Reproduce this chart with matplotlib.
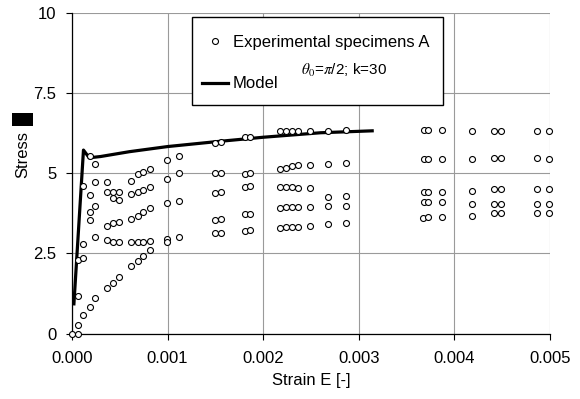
import matplotlib
matplotlib.use("Agg")
import matplotlib.pyplot as plt
from matplotlib.lines import Line2D
from matplotlib.patches import Rectangle

plt.rcParams['font.family'] = ['Liberation Sans', 'DejaVu Sans']
plt.rcParams['mathtext.fontset'] = 'stix'

# Experimental specimens A: strain and stress
exp_strain = [
    0.0, 0.000063, 0.000063, 0.000118, 0.000188, 0.000243, 0.000369, 0.000425, 0.000494,
    0.00062, 0.00069, 0.000745, 0.000815,
    0.000063, 0.000063, 0.000118, 0.000118, 0.000243,
    0.000369, 0.000425, 0.000494, 0.00062, 0.00069, 0.000745, 0.000815,
    0.000996, 0.000996, 0.00112,
    0.000188, 0.000188, 0.000243,
    0.000369, 0.000425, 0.000494,
    0.00062, 0.00069, 0.000745, 0.000815,
    0.000996, 0.00112,
    0.000188, 0.000118, 0.000243, 0.000369,
    0.000369, 0.000425, 0.000494, 0.000425, 0.000494,
    0.00062,
    0.00062, 0.00069, 0.000745, 0.000815,
    0.00069, 0.000745, 0.000815,
    0.000996, 0.000996, 0.00112, 0.00112,
    0.000188, 0.000243,
    0.0015, 0.00156, 0.00181, 0.001867,
    0.00218, 0.002236, 0.0023, 0.00236, 0.002494, 0.002675, 0.00287,
    0.0015, 0.00156, 0.00181, 0.001867,
    0.00218, 0.002236, 0.0023, 0.00236, 0.002494, 0.002675, 0.00287,
    0.0015, 0.00156, 0.00181, 0.001867,
    0.00218, 0.002236, 0.0023, 0.00236, 0.002494, 0.002675, 0.00287,
    0.0015, 0.00156, 0.00181, 0.001867,
    0.00218, 0.002236, 0.0023, 0.00236, 0.002494, 0.002675, 0.00287,
    0.0015, 0.00156, 0.00181, 0.001867,
    0.00218, 0.002236, 0.0023, 0.00236, 0.002494, 0.002675, 0.00287,
    0.003678, 0.003727, 0.003866, 0.00418, 0.00441, 0.004486, 0.004862, 0.004988,
    0.003678, 0.003727, 0.003866, 0.00418, 0.00441, 0.004486, 0.004862, 0.004988,
    0.003678, 0.003727, 0.003866, 0.00418, 0.00441, 0.004486, 0.004862, 0.004988,
    0.003678, 0.003727, 0.003866, 0.00418, 0.00441, 0.004486, 0.004862, 0.004988,
    0.00367, 0.003727, 0.003866, 0.00418, 0.00441, 0.004486, 0.004862, 0.004988,
]
exp_stress = [
    0.0, 0.0, 0.28, 0.57, 0.84, 1.12, 1.42, 1.59, 1.78,
    2.11, 2.26, 2.42, 2.61,
    1.18, 2.30, 2.37, 2.78, 3.02,
    2.91, 2.85, 2.85, 2.85, 2.85, 2.85, 2.88,
    2.95, 2.85, 3.02,
    3.54, 3.78, 3.99,
    3.36, 3.44, 3.47,
    3.57, 3.68, 3.79, 3.91,
    4.06, 4.13,
    4.31, 4.61, 4.72, 4.72,
    4.41, 4.42, 4.40, 4.24, 4.16,
    4.75,
    4.34, 4.40, 4.49, 4.58,
    4.97, 5.04, 5.13,
    4.82, 5.41, 5.55, 5.00,
    5.55, 5.28,
    5.93, 5.96, 6.12, 6.14,
    6.31, 6.31, 6.31, 6.31, 6.31, 6.31, 6.35,
    5.00, 5.00, 4.97, 5.00,
    5.13, 5.17, 5.21, 5.25, 5.25, 5.28, 5.31,
    4.37, 4.41, 4.58, 4.60,
    4.58, 4.58, 4.58, 4.55, 4.55, 4.27, 4.30,
    3.54, 3.58, 3.72, 3.74,
    3.93, 3.95, 3.95, 3.95, 3.96, 3.99, 3.99,
    3.13, 3.13, 3.20, 3.23,
    3.30, 3.33, 3.33, 3.33, 3.36, 3.41, 3.44,
    6.35, 6.35, 6.35, 6.31, 6.31, 6.31, 6.31, 6.31,
    5.44, 5.44, 5.44, 5.44, 5.47, 5.47, 5.47, 5.44,
    4.40, 4.40, 4.42, 4.45, 4.51, 4.51, 4.51, 4.51,
    4.09, 4.09, 4.11, 4.03, 4.03, 4.03, 4.03, 4.03,
    3.61, 3.65, 3.65, 3.68, 3.75, 3.75, 3.75, 3.75,
]

# Model curve
model_strain = [0.00002, 0.00012, 0.00018, 0.0003, 0.0006, 0.001, 0.0015, 0.002, 0.0026, 0.00314]
model_stress = [0.93, 5.72, 5.48, 5.52, 5.67, 5.83, 5.98, 6.12, 6.26, 6.32]

x_ticks = [0.000, 0.001, 0.002, 0.003, 0.004, 0.005]
x_ticklabels = ['0.000', '0.001', '0.002', '0.003', '0.004', '0.005']
y_ticks = [0, 2.5, 5, 7.5, 10]
y_ticklabels = ['0', '2.5', '5', '7.5', '10']

W, H = 580, 399
fig = plt.figure(figsize=(W / 100, H / 100), dpi=100)
ax = fig.add_axes([72 / W, 1 - 333.7 / H, (550 - 72) / W, (333.7 - 12.7) / H])

ax.plot(model_strain, model_stress, color='black', lw=2.3, zorder=3,
        solid_joinstyle='round', clip_on=False)
ax.plot(exp_strain, exp_stress, linestyle='none', marker='o', ms=4.3, mew=0.8,
        mfc='white', mec='black', zorder=4, clip_on=False)

ax.set_xlim(0, 0.005)
ax.set_ylim(0, 10)
ax.set_xticks(x_ticks)
ax.set_xticklabels(x_ticklabels)
ax.set_yticks(y_ticks)
ax.set_yticklabels(y_ticklabels)
ax.grid(True, color='#9a9a9a', lw=0.8)
ax.set_axisbelow(True)
for s in ['top', 'right']:
    ax.spines[s].set_visible(False)
for s in ['left', 'bottom']:
    ax.spines[s].set_color('black')
    ax.spines[s].set_linewidth(0.9)
ax.tick_params(axis='both', direction='out', length=4.3, width=0.8, labelsize=12,
               color='black')
ax.tick_params(axis='x', pad=8.5)
ax.tick_params(axis='y', pad=7)
ax.set_xlabel('Strain E [-]', fontsize=12, labelpad=5)

# Y label with redacted unit block
fig.text(22.5 / W, 1 - 154.5 / H, 'Stress', rotation=90, fontsize=12,
         ha='center', va='center')
fig.patches.append(Rectangle((12 / W, 1 - 126 / H), 21 / W, 13 / H,
                             transform=fig.transFigure, facecolor='black',
                             edgecolor='none'))

# Legend frame (drawn inside the axes so the legend sits on top)
ax.add_patch(Rectangle((192 / W, 1 - 105 / H), (443 - 192) / W, (105 - 17) / H,
                       transform=fig.transFigure, facecolor='white',
                       edgecolor='black', lw=1.0, zorder=5, clip_on=False))
handles = [Line2D([], [], linestyle='none', marker='o', ms=4.3, mew=0.8,
                  mfc='white', mec='black'),
           Line2D([], [], color='black', lw=2.3)]
leg = ax.legend(handles, ['Experimental specimens A', 'Model'],
                loc='upper left', bbox_to_anchor=(201.7 / W, 1 - 34.5 / H),
                bbox_transform=fig.transFigure, frameon=False, fontsize=12,
                borderaxespad=0, borderpad=0, labelspacing=1.62,
                handlelength=1.6, handletextpad=0.28)
leg.set_zorder(6)
fig.text(301 / W, 1 - 70 / H, r'$\theta_0$=$\pi$/2; k=30', fontsize=11,
         ha='left', va='center', zorder=7)

fig.savefig('out.png', dpi=100)
